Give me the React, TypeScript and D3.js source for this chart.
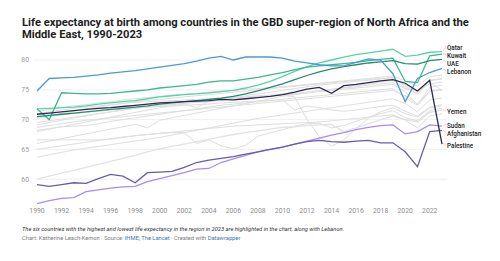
import * as d3 from "d3";

const W = 500;
const H = 261;

const years = d3.range(1990, 2024);
const xTicks = [1990, 1992, 1994, 1996, 1998, 2000, 2002, 2004, 2006, 2008, 2010, 2012, 2014, 2016, 2018, 2020, 2022];
const yTicks = [60, 65, 70, 75, 80];

// highlighted countries, 1990-2023
const qatar = [71.8, 71.9, 72.0, 72.1, 72.3, 72.6, 72.8, 73.0, 73.2, 73.5, 73.8, 74.0, 74.2, 74.3, 74.5, 74.7, 74.9, 75.3, 75.8, 76.4, 77.2, 78.1, 78.9, 79.5, 80.0, 80.5, 80.9, 81.2, 81.5, 81.8, 80.6, 80.8, 81.3, 81.4];
const kuwait = [71.8, 70.0, 74.5, 74.4, 74.3, 74.3, 74.4, 74.6, 74.8, 75.0, 75.3, 75.5, 75.7, 75.9, 76.3, 76.5, 76.5, 76.8, 77.1, 77.5, 77.9, 78.4, 78.8, 79.0, 79.2, 79.4, 79.6, 79.9, 80.1, 80.3, 76.4, 76.2, 80.7, 81.0];
const uae = [70.5, 70.7, 70.9, 71.1, 71.3, 71.5, 71.7, 71.9, 72.1, 72.3, 72.6, 72.8, 73.0, 73.2, 73.4, 73.6, 73.9, 74.3, 74.8, 75.4, 76.0, 76.7, 77.4, 78.0, 78.5, 78.9, 79.2, 79.5, 79.7, 79.9, 79.4, 79.3, 79.9, 80.1];
const lebanon = [74.8, 76.9, 77.0, 77.1, 77.3, 77.5, 77.8, 78.0, 78.2, 78.5, 78.8, 79.1, 79.4, 79.8, 80.3, 80.6, 80.0, 80.5, 80.5, 80.5, 80.3, 79.8, 79.5, 79.2, 79.0, 79.0, 79.6, 80.2, 80.0, 77.7, 73.0, 76.9, 77.9, 78.6];
const yemen = [60.0, 60.5, 61.0, 61.5, 62.0, 62.5, 63.0, 63.5, 64.0, 64.6, 65.1, 65.5, 65.9, 66.3, 66.7, 67.1, 67.5, 67.8, 68.1, 68.4, 68.7, 68.8, 69.0, 69.1, 69.2, 68.0, 68.6, 69.3, 70.0, 70.6, 70.0, 69.6, 71.2, 71.6];
const sudan = [55.9, 56.4, 56.8, 56.9, 57.9, 58.2, 58.5, 58.7, 58.8, 59.6, 60.1, 60.6, 61.1, 61.7, 61.8, 62.8, 63.4, 64.0, 64.6, 65.0, 65.4, 65.9, 66.4, 66.9, 67.4, 67.8, 68.3, 68.7, 69.0, 69.1, 67.6, 68.0, 69.1, 68.9];
const afghanistan = [59.1, 58.8, 59.1, 59.4, 59.3, 60.1, 60.8, 60.5, 59.4, 61.1, 61.2, 61.3, 62.0, 62.8, 63.2, 63.5, 63.8, 64.2, 64.6, 65.0, 65.4, 65.9, 66.3, 66.5, 66.3, 66.2, 66.4, 66.5, 66.1, 66.1, 64.6, 62.1, 68.0, 68.2];
const palestine = [70.9, 71.1, 71.3, 71.5, 71.7, 71.9, 72.0, 72.2, 72.4, 72.6, 72.8, 72.9, 73.0, 73.1, 73.2, 73.4, 73.3, 73.5, 73.7, 73.9, 74.2, 74.6, 75.1, 75.4, 74.4, 75.7, 75.9, 76.2, 76.5, 76.7, 76.1, 74.8, 76.6, 65.9];

// rest of the super-region
const bahrain = [71.4, 71.7, 72.0, 72.3, 72.5, 72.8, 73.0, 73.3, 73.5, 73.7, 73.9, 74.1, 74.3, 74.4, 74.6, 74.8, 74.9, 75.1, 75.2, 75.4, 75.5, 75.7, 75.9, 76.1, 76.3, 76.5, 76.7, 76.9, 77.1, 77.3, 76.5, 75.6, 77.2, 77.5];
const oman = [70.2, 70.6, 71.0, 71.4, 71.8, 72.1, 72.4, 72.7, 73.0, 73.2, 73.4, 73.6, 73.8, 74.0, 74.2, 74.4, 74.6, 74.8, 75.0, 75.2, 75.4, 75.6, 75.8, 76.0, 76.2, 76.4, 76.6, 76.7, 76.9, 77.0, 75.6, 74.2, 76.5, 76.8];
const saudiArabia = [69.5, 69.8, 70.1, 70.4, 70.7, 71.0, 71.3, 71.6, 71.9, 72.1, 72.3, 72.5, 72.7, 72.9, 73.0, 73.2, 73.4, 73.6, 73.8, 74.0, 74.2, 74.4, 74.6, 74.8, 75.0, 75.3, 75.5, 75.8, 76.0, 76.2, 75.2, 74.8, 76.0, 76.3];
const tunisia = [69.1, 69.5, 69.9, 70.3, 70.6, 71.0, 71.3, 71.6, 71.9, 72.2, 72.4, 72.6, 72.8, 73.0, 73.2, 73.4, 73.6, 73.8, 74.0, 74.1, 74.3, 74.2, 74.5, 74.7, 74.9, 75.1, 75.3, 75.5, 75.7, 75.9, 74.7, 72.5, 75.4, 75.8];
const jordan = [68.7, 69.0, 69.3, 69.6, 69.9, 70.1, 70.3, 70.5, 70.7, 70.9, 71.1, 71.3, 71.5, 71.7, 71.9, 72.1, 72.3, 72.5, 72.7, 72.9, 73.1, 73.3, 73.5, 73.7, 73.9, 74.1, 74.3, 74.5, 74.7, 74.9, 74.0, 72.6, 74.8, 75.1];
const algeria = [68.2, 68.5, 68.8, 68.9, 69.0, 69.3, 69.7, 70.0, 70.3, 70.6, 70.9, 71.2, 71.5, 71.8, 72.1, 72.4, 72.6, 72.8, 73.0, 73.2, 73.4, 73.6, 73.8, 74.0, 74.2, 74.4, 74.6, 74.8, 75.0, 75.2, 73.6, 72.4, 74.7, 75.0];
const syria = [71.0, 71.3, 71.6, 71.9, 72.1, 72.3, 72.5, 72.7, 72.9, 73.0, 73.1, 73.2, 73.3, 73.4, 73.5, 73.6, 73.7, 73.8, 73.9, 74.0, 74.1, 73.8, 70.0, 67.2, 65.5, 66.6, 68.5, 70.2, 71.3, 72.0, 71.0, 70.4, 71.9, 72.3];
const libya = [70.4, 70.6, 70.8, 71.0, 71.2, 71.4, 71.6, 71.8, 72.0, 72.1, 72.2, 72.3, 72.4, 72.5, 72.6, 72.8, 72.9, 73.0, 73.1, 73.2, 73.3, 71.6, 72.3, 72.0, 71.6, 71.4, 71.6, 71.9, 72.2, 72.4, 71.4, 70.6, 72.1, 72.5];
const iraq = [66.6, 66.6, 66.6, 66.6, 66.6, 66.6, 66.7, 67.0, 67.3, 67.5, 67.7, 67.8, 67.8, 66.0, 66.6, 65.6, 65.1, 65.7, 67.2, 67.8, 68.3, 68.9, 69.3, 69.4, 68.6, 69.0, 69.7, 70.4, 71.0, 71.5, 70.3, 69.8, 71.5, 71.9];
const egypt = [65.0, 65.3, 65.6, 65.9, 66.2, 66.5, 66.8, 67.1, 67.3, 67.5, 67.7, 67.9, 68.1, 68.3, 68.5, 68.7, 68.9, 69.0, 69.1, 69.2, 69.3, 69.4, 69.5, 69.6, 69.8, 70.0, 70.2, 70.4, 70.6, 70.8, 69.9, 68.6, 70.6, 71.0];
const morocco = [63.7, 64.1, 64.5, 64.9, 65.2, 65.5, 65.8, 66.1, 66.4, 66.7, 67.0, 67.4, 67.8, 68.2, 68.6, 69.0, 69.4, 69.8, 70.2, 70.5, 70.8, 71.1, 71.4, 71.7, 72.0, 72.3, 72.6, 72.9, 73.2, 73.5, 72.7, 71.3, 73.3, 73.6];
const iran = [68.0, 68.4, 68.8, 69.2, 69.6, 70.0, 70.4, 70.8, 71.2, 71.6, 72.0, 72.3, 72.6, 72.0, 73.1, 73.4, 73.7, 74.0, 74.3, 74.6, 74.9, 75.2, 75.5, 75.8, 76.0, 76.2, 76.4, 76.6, 76.8, 77.0, 75.8, 74.6, 76.6, 76.9];
const turkey = [66.0, 66.4, 66.8, 67.2, 67.6, 68.0, 68.4, 68.8, 69.2, 68.6, 69.9, 70.3, 70.7, 71.1, 71.5, 71.9, 72.3, 72.7, 73.1, 73.5, 73.9, 74.2, 74.5, 74.8, 75.1, 75.4, 75.7, 76.0, 76.3, 76.6, 75.3, 74.4, 76.4, 74.8];

const others = [bahrain, oman, saudiArabia, tunisia, jordan, algeria, syria, libya, iraq, egypt, morocco, iran, turkey];

const highlighted = [
  { name: "Qatar", values: qatar, color: "#5ad3a4" },
  { name: "Kuwait", values: kuwait, color: "#3ab98c" },
  { name: "UAE", values: uae, color: "#2a8a6c" },
  { name: "Lebanon", values: lebanon, color: "#4b9bd2" },
  { name: "Yemen", values: yemen, color: "#e2e2e2" },
  { name: "Sudan", values: sudan, color: "#a88cf0" },
  { name: "Afghanistan", values: afghanistan, color: "#6a5aab" },
  { name: "Palestine", values: palestine, color: "#2b2950" },
];

const x = d3.scaleLinear().domain([1990, 2023]).range([37, 442]);
const y = d3.scaleLinear().domain([60, 80]).range([179.2, 60]);

const line = d3
  .line<number>()
  .x((_, i) => x(years[i]))
  .y((d) => y(d));

// spread end labels apart so they don't collide
function dodge(targets: number[], gap: number) {
  let groups = targets.map((t, i) => ({ idx: [i], pos: t, sum: t }));
  let moved = true;
  while (moved) {
    moved = false;
    for (let i = 0; i < groups.length - 1; i++) {
      const a = groups[i];
      const b = groups[i + 1];
      const aEnd = a.pos + (a.idx.length - 1) * gap;
      if (b.pos - aEnd < gap) {
        const idx = a.idx.concat(b.idx);
        const sum = a.sum + b.sum;
        const mean = sum / idx.length;
        const pos = mean - ((idx.length - 1) * gap) / 2;
        groups.splice(i, 2, { idx, pos, sum });
        moved = true;
        break;
      }
    }
  }
  const out: number[] = [];
  groups.forEach((g) => g.idx.forEach((k, j) => (out[k] = g.pos + j * gap)));
  return out;
}

const endY = highlighted.map((h) => y(h.values[h.values.length - 1]));
const labelY = dodge(endY, 8.2);

export default function App() {
  return (
    <svg
      width={W}
      height={H}
      style={{ position: "absolute", left: 0, top: 0, background: "#fff", fontFamily: "Roboto, sans-serif" }}
    >
      <text x={22} y={26} fontSize={11.2} fontWeight={700} fill="#1d1d1d">
        Life expectancy at birth among countries in the GBD super-region of North Africa and the
      </text>
      <text x={22} y={38} fontSize={11.2} fontWeight={700} fill="#1d1d1d">
        Middle East, 1990-2023
      </text>

      {yTicks.map((t) => (
        <g key={t}>
          <line x1={33} x2={447} y1={y(t)} y2={y(t)} stroke="#ececec" strokeWidth={0.8} />
          <text x={29} y={y(t)} dy="0.35em" textAnchor="end" fontSize={6.8} fill="#9b9b9b">
            {t}
          </text>
        </g>
      ))}

      {xTicks.map((t) => (
        <text key={t} x={x(t)} y={213} textAnchor="middle" fontSize={6.8} fill="#8e8e8e">
          {t}
        </text>
      ))}

      {others.map((v, i) => (
        <path key={i} d={line(v) ?? ""} fill="none" stroke="#dedede" strokeWidth={1} />
      ))}

      {highlighted.map((h) => (
        <path key={h.name} d={line(h.values) ?? ""} fill="none" stroke={h.color} strokeWidth={1.3} />
      ))}

      {highlighted.map((h, i) => (
        <g key={h.name}>
          <line x1={443} x2={446} y1={endY[i]} y2={labelY[i]} stroke="#bbb" strokeWidth={0.6} />
          <text x={447} y={labelY[i] + 1.5} dy="0.35em" fontSize={6.3} fontWeight={500} fill="#222">
            {h.name}
          </text>
        </g>
      ))}

      <text x={22} y={231} fontSize={5.75} fontStyle="italic" fill="#333">
        The six countries with the highest and lowest life expectancy in the region in 2023 are highlighted in the chart, along with Lebanon.
      </text>
      <text x={22} y={240} fontSize={5.75} fill="#7d7d7d">
        Chart: Katherine Leach-Kemon · Source: <tspan fill="#3b78c2">IHME</tspan>;{" "}
        <tspan fill="#3b78c2">The Lancet</tspan> · Created with <tspan fill="#3b78c2">Datawrapper</tspan>
      </text>
    </svg>
  );
}
